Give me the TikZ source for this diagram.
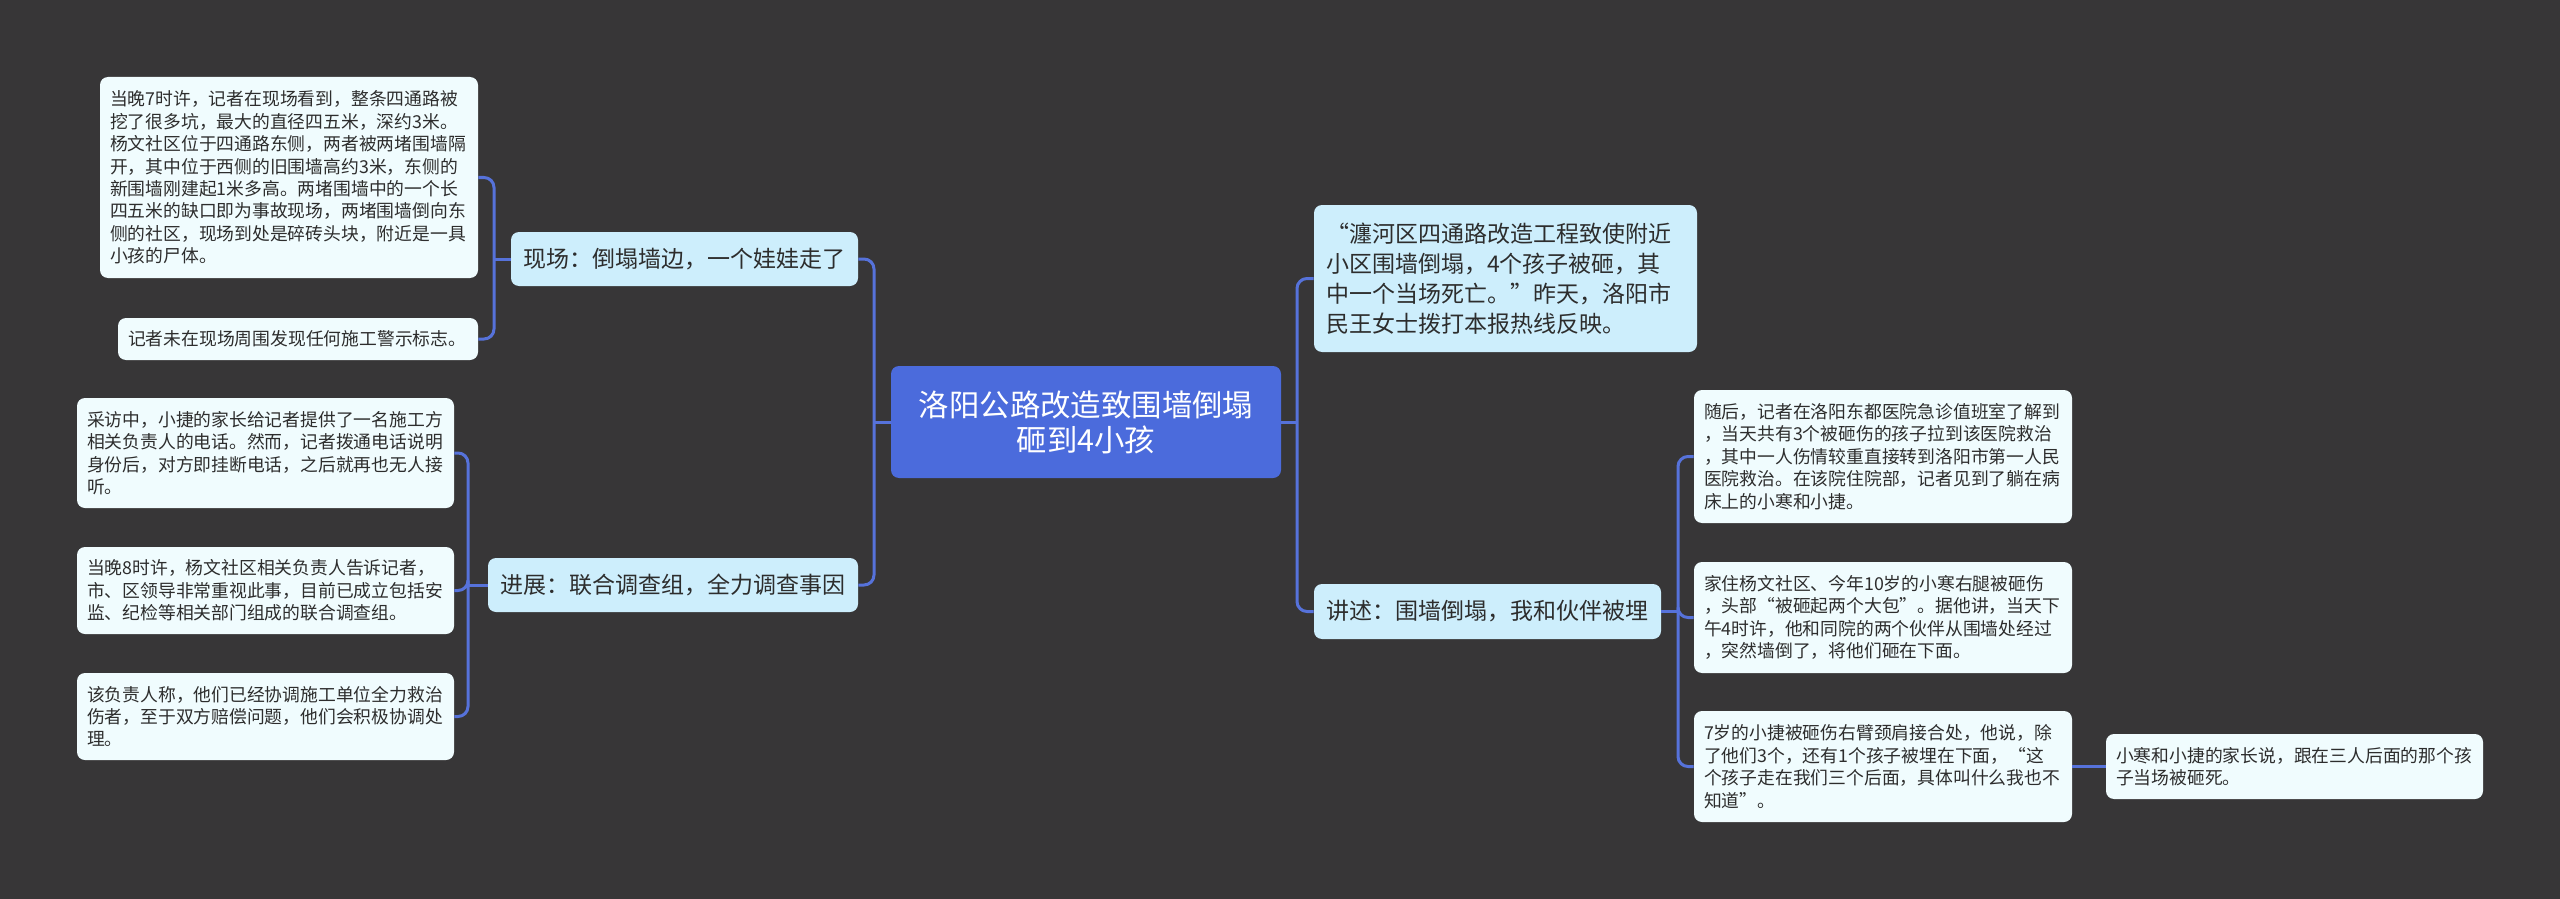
\documentclass[tikz,border=0pt]{standalone}
\usepackage{fontspec}
\setmainfont{Noto Sans CJK SC}
\newcommand\qopen{{\addfontfeatures{CharacterWidth=Full}“}}
\newcommand\qclose{{\addfontfeatures{CharacterWidth=Full}”}}
\definecolor{bgdark}{RGB}{55,54,55}
\definecolor{topicblue}{RGB}{75,107,220}
\definecolor{linkblue}{RGB}{86,114,218}
\definecolor{branchbg}{RGB}{205,238,252}
\definecolor{leafbg}{RGB}{240,252,254}
\definecolor{textdark}{RGB}{45,45,45}
\begin{document}
\begin{tikzpicture}[x=0.5pt,y=-0.5pt,
    topic/.style={fill=topicblue,rounded corners=4pt,text=white,align=center,font=\fontsize{15.2}{17.5}\selectfont},
    branch/.style={fill=branchbg,rounded corners=4pt,text=textdark,align=left,inner xsep=6pt,inner ysep=2pt,font=\fontsize{11.5}{15}\selectfont},
    leaf/.style={fill=leafbg,rounded corners=4pt,text=textdark,align=left,inner xsep=5pt,inner ysep=2pt,font=\fontsize{8.9}{11.2}\selectfont},
    link/.style={draw=linkblue,line width=1.5pt,rounded corners=5pt}]
      \fill[bgdark] (0,0) rectangle (2560,899);
      \node[topic,minimum width=195pt,minimum height=56pt] (root) at (1086,422) {洛阳公路改造致围墙倒塌\\砸到4小孩};
      \node[branch,text width=161.5pt,minimum height=27pt] (scene) at (684.5,259) {现场：倒塌墙边，一个娃娃走了};
      \node[branch,text width=173pt,minimum height=27pt] (progress) at (673,585) {进展：联合调查组，全力调查事因};
      \node[branch,text width=179.5pt,minimum height=73.5pt] (report) at (1505.5,278.5) {\qopen 瀍河区四通路改造工程致使附近\\小区围墙倒塌，4个孩子被砸，其\\中一个当场死亡。\qclose 昨天，洛阳市\\民王女士拨打本报热线反映。};
      \node[branch,text width=161.5pt,minimum height=27.5pt] (story) at (1487.5,611.5) {讲述：围墙倒塌，我和伙伴被埋};
      \node[leaf,text width=179pt,minimum height=100.5pt] (scene1) at (289,177.5) {当晚7时许，记者在现场看到，整条四通路被\\挖了很多坑，最大的直径四五米，深约3米。\\杨文社区位于四通路东侧，两者被两堵围墙隔\\开，其中位于西侧的旧围墙高约3米，东侧的\\新围墙刚建起1米多高。两堵围墙中的一个长\\四五米的缺口即为事故现场，两堵围墙倒向东\\侧的社区，现场到处是碎砖头块，附近是一具\\小孩的尸体。};
      \node[leaf,text width=170pt,minimum height=21pt] (scene2) at (298,339) {记者未在现场周围发现任何施工警示标志。};
      \node[leaf,text width=178.5pt,minimum height=55pt] (progress1) at (265.5,453) {采访中，小捷的家长给记者提供了一名施工方\\相关负责人的电话。然而，记者拨通电话说明\\身份后，对方即挂断电话，之后就再也无人接\\听。};
      \node[leaf,text width=178.5pt,minimum height=43.5pt] (progress2) at (265.5,590.5) {当晚8时许，杨文社区相关负责人告诉记者，\\市、区领导非常重视此事，目前已成立包括安\\监、纪检等相关部门组成的联合调查组。};
      \node[leaf,text width=178.5pt,minimum height=43.5pt] (progress3) at (265.5,716.5) {该负责人称，他们已经协调施工单位全力救治\\伤者，至于双方赔偿问题，他们会积极协调处\\理。};
      \node[leaf,text width=179pt,minimum height=66.5pt] (story1) at (1883,456.5) {随后，记者在洛阳东都医院急诊值班室了解到\\，当天共有3个被砸伤的孩子拉到该医院救治\\，其中一人伤情较重直接转到洛阳市第一人民\\医院救治。在该院住院部，记者见到了躺在病\\床上的小寒和小捷。};
      \node[leaf,text width=179pt,minimum height=55.5pt] (story2) at (1883,617.5) {家住杨文社区、今年10岁的小寒右腿被砸伤\\，头部\qopen 被砸起两个大包\qclose 。据他讲，当天下\\午4时许，他和同院的两个伙伴从围墙处经过\\，突然墙倒了，将他们砸在下面。};
      \node[leaf,text width=179pt,minimum height=55.5pt] (story3) at (1883,766.5) {7岁的小捷被砸伤右臂颈肩接合处，他说，除\\了他们3个，还有1个孩子被埋在下面，\qopen 这\\个孩子走在我们三个后面，具体叫什么我也不\\知道\qclose 。};
      \node[leaf,text width=178.5pt,minimum height=32.5pt] (story4) at (2294.5,766.5) {小寒和小捷的家长说，跟在三人后面的那个孩\\子当场被砸死。};
      \coordinate (lj) at (874,422);
      \coordinate (rj) at (1297,422);
      \coordinate (sj) at (494,259);
      \coordinate (pj) at (468,585);
      \coordinate (tj) at (1678,611.5);
      \draw[link] (root.west) -- (lj);
      \draw[link] (scene.east) -| (lj) |- (progress.east);
      \draw[link] (root.east) -- (rj);
      \draw[link] (report.west) -| (rj) |- (story.west);
      \draw[link] (scene.west) -- (sj);
      \draw[link] (scene1.east) -| (sj) |- (scene2.east);
      \draw[link] (progress.west) -- (pj);
      \draw[link] (progress1.east) -| (pj) |- (progress3.east);
      \draw[link] (pj) |- (progress2.east);
      \draw[link] (story.east) -- (tj);
      \draw[link] (story1.west) -| (tj) |- (story3.west);
      \draw[link] (tj) |- (story2.west);
      \draw[link] (story3.east) -- (story4.west);
    \end{tikzpicture}
\end{document}
